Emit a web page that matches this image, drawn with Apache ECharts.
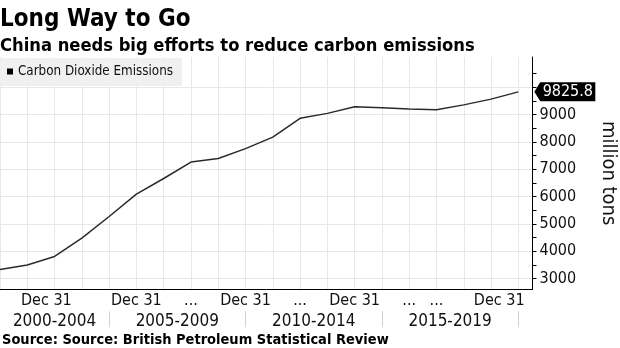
<!DOCTYPE html>
<html><head><meta charset="utf-8">
<script src="https://cdn.jsdelivr.net/npm/echarts@6/dist/echarts.min.js"></script>
<style>html,body{margin:0;padding:0;background:#fff}#c{width:620px;height:348px}</style>
</head><body><div id="c"></div>
<script>
const years = [2000,2001,2002,2003,2004,2005,2006,2007,2008,2009,2010,2011,2012,2013,2014,2015,2016,2017,2018,2019];
const emissions = [3330,3500,3810,4480,5270,6090,6660,7260,7390,7750,8170,8860,9040,9280,9245,9200,9170,9350,9560,9825.8];
const yLabelValues = [3000,4000,5000,6000,7000,8000,9000];
const yTickValues = [3000,3500,4000,4500,5000,5500,6000,6500,7000,7500,8000,8500,9000,9500,10000,10500];
const yGridValues = [3000,4000,5000,6000,7000,8000,9000,10000];
const dateTickPos = [2001.7,2005,2007,2009,2011,2013,2015,2016,2018.3];
const dateTickText = ['Dec 31','Dec 31','...','Dec 31','...','Dec 31','...','...','Dec 31'];
const groupLabelPos = [2002,2006.5,2011.5,2016.5];
const groupLabels = ['2000-2004','2005-2009','2010-2014','2015-2019'];
const groupBounds = [2004,2009,2014,2019];
const seriesName = 'Carbon Dioxide Emissions';

const FF = "'DejaVu Sans Condensed','DejaVu Sans',sans-serif";
const chart = echarts.init(document.getElementById('c'), null, {renderer:'canvas'});
const xMin = 2000, xMax = 2019.52, yMin = 2610, yMax = 11100;
const last = emissions.length - 1;
chart.setOption({
  animation: false,
  backgroundColor: '#fff',
  textStyle: {fontFamily: FF},
  title: [
    {text: 'Long Way to Go', left: 0, top: 8, padding: 0,
     textStyle: {fontFamily: FF, fontSize: 24, fontWeight: 'bold', color: '#000'}},
    {text: 'China needs big efforts to reduce carbon emissions', left: 0, top: 37, padding: 0,
     textStyle: {fontFamily: FF, fontSize: 18.2, fontWeight: 'bold', color: '#000'}},
    {text: 'Source: Source: British Petroleum Statistical Review', left: 2, top: 333, padding: 0,
     textStyle: {fontFamily: FF, fontSize: 14.5, fontWeight: 'bold', color: '#000'}}
  ],
  legend: {
    data: [{name: seriesName, itemStyle: {color: '#000'}}],
    left: 0, top: 58, icon: 'rect', itemWidth: 6, itemHeight: 6,
    backgroundColor: '#f0f0f0', padding: [7, 9, 8, 7],
    textStyle: {fontFamily: FF, fontSize: 13.3, color: '#111'}
  },
  grid: {left: 0, right: 87.5, top: 57, bottom: 58.7, containLabel: false, outerBoundsMode: 'none'},
  xAxis: [
    {type: 'value', min: xMin, max: xMax, interval: 1,
     axisLine: {show: true, lineStyle: {color: '#000', width: 1}},
     axisTick: {show: false},
     splitLine: {show: true, lineStyle: {color: '#e8e8e8', width: 1}},
     axisLabel: {customValues: dateTickPos, margin: 4, fontSize: 16, color: '#111', fontFamily: FF,
       formatter: v => { const i = dateTickPos.findIndex(p => Math.abs(p - v) < 1e-6); return i >= 0 ? dateTickText[i] : ''; }}
    },
    {type: 'value', min: xMin, max: xMax, position: 'bottom', offset: 22,
     axisLine: {show: false},
     axisTick: {show: true, customValues: groupBounds, length: 16, lineStyle: {color: '#d0d0d0'}},
     splitLine: {show: false},
     axisLabel: {customValues: groupLabelPos, margin: 2, fontSize: 17, color: '#111', fontFamily: FF,
       formatter: v => { const i = groupLabelPos.findIndex(p => Math.abs(p - v) < 1e-6); return i >= 0 ? groupLabels[i] : ''; }}
    }
  ],
  yAxis: [
    {type: 'value', position: 'right', min: yMin, max: yMax,
     axisLine: {show: true, lineStyle: {color: '#000', width: 1}},
     axisTick: {show: true, customValues: yTickValues, length: 4, lineStyle: {color: '#000'}},
     axisLabel: {customValues: yLabelValues, margin: 7, fontSize: 16, color: '#111', fontFamily: FF,
       formatter: v => String(v)},
     splitLine: {show: false},
     name: 'million tons', nameLocation: 'middle', nameRotate: -90, nameGap: 66,
     nameTextStyle: {fontSize: 20, color: '#111', fontFamily: FF}
    },
    {type: 'value', position: 'right', min: yMin, max: yMax,
     axisLine: {show: false}, axisLabel: {show: false},
     axisTick: {show: false, customValues: yGridValues},
     splitLine: {show: true, lineStyle: {color: '#e8e8e8', width: 1}}
    }
  ],
  series: [{
    name: seriesName, type: 'line', xAxisIndex: 0, yAxisIndex: 0,
    data: years.map((y, i) => [y, emissions[i]]),
    showSymbol: false, clip: false,
    lineStyle: {color: '#2a2a2a', width: 1.5}, itemStyle: {color: '#000'},
    markPoint: {
      symbol: 'path://M0,9.5 L6,0 L61,0 L61,19 L6,19 Z',
      symbolSize: [61, 19], symbolOffset: [46.5, 0], symbolKeepAspect: false,
      itemStyle: {color: '#000'},
      label: {show: true, color: '#fff', fontSize: 16, fontFamily: FF, offset: [3, 0], formatter: '{c}'},
      data: [{coord: [years[last], emissions[last]], value: emissions[last]}]
    }
  }]
});
</script></body></html>
